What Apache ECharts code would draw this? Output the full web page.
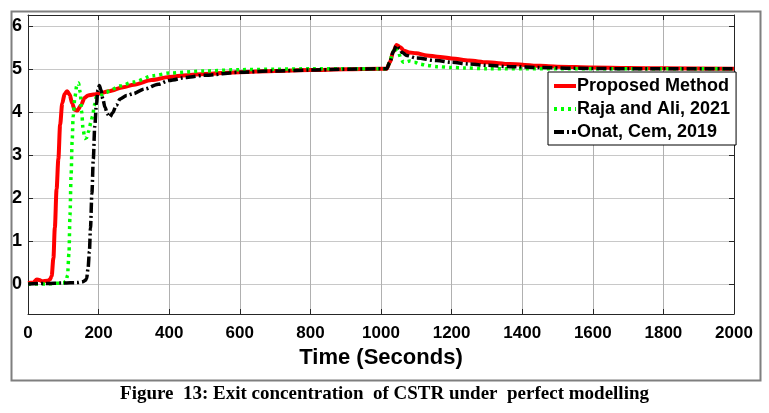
<!DOCTYPE html>
<html>
<head>
<meta charset="utf-8">
<script src="https://cdn.jsdelivr.net/npm/echarts@6/dist/echarts.min.js"></script>
<style>
html,body{margin:0;padding:0;background:#fff;}
#c{width:769px;height:413px;}
</style>
</head>
<body>
<div id="c"></div>
<script>
// ---- data ----
const seriesNames = ['Proposed Method', 'Raja and Ali, 2021', 'Onat, Cem, 2019'];
const xTicks = [0, 200, 400, 600, 800, 1000, 1200, 1400, 1600, 1800, 2000];
const yTicks = [0, 1, 2, 3, 4, 5, 6];

const proposedT = [0, 15, 25, 32, 40, 55, 62, 67, 72, 76, 81, 86, 91, 97, 104, 111, 118, 125, 132, 140, 150, 160, 170, 185, 200, 230, 270, 300, 350, 400, 450, 500, 600, 700, 800, 900, 1000, 1016, 1025, 1035, 1044, 1055, 1065, 1080, 1100, 1130, 1160, 1200, 1250, 1300, 1365, 1450, 1500, 1600, 1700, 1800, 2000];
const proposedV = [0.02, 0.03, 0.1, 0.09, 0.06, 0.07, 0.1, 0.18, 0.6, 1.3, 2.2, 2.9, 3.7, 4.2, 4.42, 4.48, 4.4, 4.2, 4.05, 4.03, 4.15, 4.32, 4.38, 4.4, 4.42, 4.48, 4.57, 4.63, 4.74, 4.81, 4.85, 4.88, 4.92, 4.95, 4.97, 4.99, 5.0, 5.0, 5.15, 5.4, 5.55, 5.5, 5.42, 5.38, 5.36, 5.31, 5.28, 5.24, 5.19, 5.15, 5.11, 5.07, 5.05, 5.03, 5.02, 5.01, 5.0];

const rajaT = [0, 50, 100, 108, 112, 116, 119, 122, 125, 128, 133, 138, 143, 148, 152, 156, 161, 166, 172, 178, 183, 188, 193, 200, 210, 222, 232, 260, 298, 355, 400, 500, 600, 700, 800, 1000, 1016, 1025, 1033, 1040, 1048, 1056, 1063, 1072, 1082, 1095, 1110, 1130, 1158, 1200, 1237, 1300, 2000];
const rajaV = [0.0, 0.0, 0.02, 0.06, 0.2, 0.7, 1.6, 2.5, 3.3, 3.9, 4.35, 4.6, 4.67, 4.45, 4.0, 3.6, 3.38, 3.4, 3.55, 3.75, 3.9, 4.15, 4.34, 4.4, 4.4, 4.45, 4.5, 4.6, 4.69, 4.84, 4.9, 4.95, 4.98, 4.99, 5.0, 5.0, 5.0, 5.15, 5.38, 5.5, 5.42, 5.25, 5.15, 5.16, 5.18, 5.15, 5.11, 5.08, 5.05, 5.03, 5.02, 5.0, 5.0];

const onatT = [0, 50, 100, 140, 155, 162, 166, 170, 174, 177, 181, 185, 189, 194, 198, 202, 207, 212, 218, 225, 232, 240, 250, 261, 280, 298, 330, 369, 400, 450, 500, 600, 700, 800, 900, 1000, 1016, 1025, 1035, 1044, 1052, 1060, 1073, 1100, 1158, 1200, 1252, 1300, 1365, 1450, 1550, 1700, 2000];
const onatV = [0.0, 0.01, 0.02, 0.03, 0.05, 0.08, 0.12, 0.35, 0.75, 1.3, 2.1, 2.9, 3.65, 4.2, 4.5, 4.61, 4.5, 4.3, 4.11, 3.95, 3.88, 3.98, 4.15, 4.3, 4.38, 4.42, 4.53, 4.64, 4.73, 4.8, 4.85, 4.92, 4.95, 4.97, 4.99, 5.0, 5.0, 5.15, 5.4, 5.54, 5.48, 5.38, 5.31, 5.25, 5.19, 5.15, 5.11, 5.08, 5.05, 5.03, 5.01, 5.0, 5.0];

const pairs = (t, v) => t.map((x, i) => [x, v[i]]);

const chart = echarts.init(document.getElementById('c'), null, {renderer: 'canvas'});
const FONT = '"Liberation Sans", Arial, sans-serif';
const axisDark = '#262626';
const plain = v => String(v);

const option = {
  animation: false,
  backgroundColor: '#ffffff',
  grid: {left: 28, right: 35, top: 15, bottom: 99, containLabel: false},
  xAxis: [{
    type: 'value', min: 0, max: 2000, interval: 200, position: 'bottom',
    axisLine: {show: true, onZero: false, lineStyle: {color: axisDark, width: 1}},
    axisTick: {show: true, inside: true, length: 5, lineStyle: {color: axisDark}},
    axisLabel: {color: '#000', fontSize: 17, fontWeight: 'bold', fontFamily: FONT, margin: 11,
      customValues: xTicks, formatter: plain},
    splitLine: {show: true, lineStyle: {color: '#b0b0b0', width: 1}},
    name: 'Time (Seconds)', nameLocation: 'middle', nameGap: 33,
    nameTextStyle: {color: '#000', fontSize: 22, fontWeight: 'bold', fontFamily: FONT}
  }, {
    type: 'value', min: 0, max: 2000, interval: 200, position: 'top',
    axisLine: {show: true, onZero: false, lineStyle: {color: axisDark, width: 1}},
    axisTick: {show: true, inside: true, length: 5, lineStyle: {color: axisDark}},
    axisLabel: {show: false}, splitLine: {show: false}
  }],
  yAxis: [{
    type: 'value', min: -0.7, max: 6.25, position: 'left',
    axisLine: {show: true, onZero: false, lineStyle: {color: axisDark, width: 1}},
    axisTick: {show: true, inside: true, length: 5, lineStyle: {color: axisDark}, customValues: yTicks},
    axisLabel: {color: '#000', fontSize: 18, fontWeight: 'bold', fontFamily: FONT, margin: 6,
      customValues: yTicks, formatter: plain},
    splitLine: {show: true, lineStyle: {color: '#c8c8c8', width: 1}}
  }, {
    type: 'value', min: -0.7, max: 6.25, position: 'right',
    axisLine: {show: true, onZero: false, lineStyle: {color: axisDark, width: 1}},
    axisTick: {show: true, inside: true, length: 5, lineStyle: {color: axisDark}, customValues: yTicks},
    axisLabel: {show: false}, splitLine: {show: false}
  }],
  legend: {
    show: true, orient: 'vertical', left: 548, top: 72,
    backgroundColor: '#fff', borderColor: '#000', borderWidth: 1, borderRadius: 0,
    padding: [5, 6, 4, 4], itemGap: 5, itemWidth: 22, itemHeight: 14,
    itemStyle: {opacity: 0},
    lineStyle: {width: 4},
    textStyle: {color: '#000', fontSize: 18, fontWeight: 'bold', fontFamily: FONT, lineHeight: 18, padding: [0, 0, 0, -4]},
    data: seriesNames
  },
  series: [{
    name: seriesNames[0], type: 'line', data: pairs(proposedT, proposedV),
    showSymbol: false, symbol: 'none', smooth: 0.3, smoothMonotone: 'x',
    lineStyle: {color: '#ff0000', width: 4, type: 'solid'}, itemStyle: {color: '#ff0000'}
  }, {
    name: seriesNames[1], type: 'line', data: pairs(rajaT, rajaV),
    showSymbol: false, symbol: 'none', smooth: 0.3, smoothMonotone: 'x',
    lineStyle: {color: '#00ff00', width: 3.5, type: [3, 4], cap: 'butt'}, itemStyle: {color: '#00ff00'}
  }, {
    name: seriesNames[2], type: 'line', data: pairs(onatT, onatV),
    showSymbol: false, symbol: 'none', smooth: 0.3, smoothMonotone: 'x',
    lineStyle: {color: '#000000', width: 3.5, type: [10, 3, 2, 3], cap: 'butt'}, itemStyle: {color: '#000'}
  }],
  graphic: [{
    type: 'rect', left: 9, top: 9, z: -10, silent: true,
    shape: {width: 749, height: 369},
    style: {fill: 'none', stroke: '#7f7f7f', lineWidth: 2}
  }, {
    type: 'text', left: 'center', top: 385, silent: true,
    style: {text: 'Figure  13: Exit concentration  of CSTR under  perfect modelling',
      fill: '#000', font: 'bold 19px "Liberation Serif", "Times New Roman", serif'}
  }]
};
chart.setOption(option);
</script>
</body>
</html>
